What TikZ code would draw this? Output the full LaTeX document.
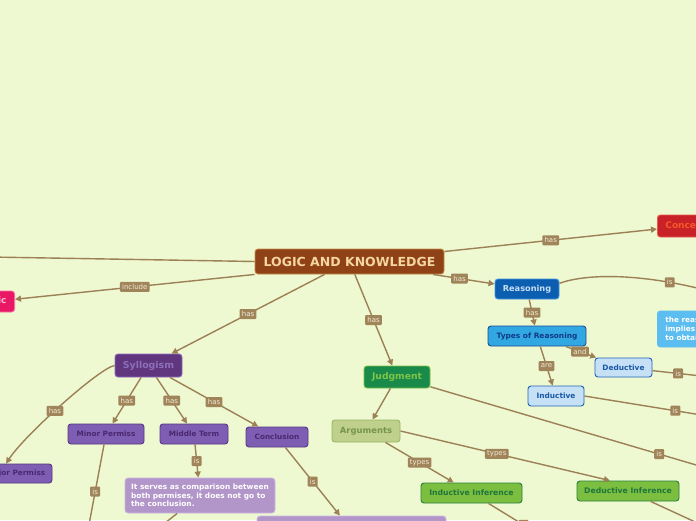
\documentclass[tikz,border=0pt]{standalone}
\usepackage{fontspec}
\setmainfont{DejaVu Sans}
\usepackage{tikz}
\usetikzlibrary{arrows.meta}
\definecolor{mapbg}{RGB}{238,248,209}
\definecolor{linkbrown}{RGB}{156,128,86}
\definecolor{tagbrown}{RGB}{160,132,90}
\definecolor{tagtext}{RGB}{242,234,214}
\definecolor{logicfill}{RGB}{142,66,22}
\definecolor{logicline}{RGB}{196,140,80}
\definecolor{logictext}{RGB}{246,214,160}
\definecolor{conceptfill}{RGB}{200,34,40}
\definecolor{conceptline}{RGB}{232,90,80}
\definecolor{concepttext}{RGB}{248,88,40}
\definecolor{pinkfill}{RGB}{232,24,100}
\definecolor{pinkline}{RGB}{248,110,160}
\definecolor{pinktext}{RGB}{250,190,210}
\definecolor{reasonfill}{RGB}{12,94,176}
\definecolor{reasonline}{RGB}{70,150,225}
\definecolor{reasontext}{RGB}{200,222,246}
\definecolor{typefill}{RGB}{50,168,226}
\definecolor{typeline}{RGB}{28,76,150}
\definecolor{typetext}{RGB}{16,58,136}
\definecolor{kindfill}{RGB}{198,224,246}
\definecolor{kindline}{RGB}{32,100,184}
\definecolor{kindtext}{RGB}{26,88,168}
\definecolor{notefill}{RGB}{92,190,240}
\definecolor{syllofill}{RGB}{96,54,126}
\definecolor{sylloline}{RGB}{140,110,190}
\definecolor{syllotext}{RGB}{140,112,186}
\definecolor{partfill}{RGB}{126,94,178}
\definecolor{partline}{RGB}{86,56,132}
\definecolor{parttext}{RGB}{74,40,112}
\definecolor{softfill}{RGB}{178,150,202}
\definecolor{softline}{RGB}{205,185,225}
\definecolor{judgefill}{RGB}{26,138,74}
\definecolor{judgeline}{RGB}{120,192,72}
\definecolor{judgetext}{RGB}{126,196,72}
\definecolor{arguefill}{RGB}{190,208,140}
\definecolor{argueline}{RGB}{152,182,100}
\definecolor{arguetext}{RGB}{118,148,78}
\definecolor{inferfill}{RGB}{124,190,64}
\definecolor{inferline}{RGB}{40,128,60}
\definecolor{infertext}{RGB}{30,118,60}
\newcommand{\fsz}[1]{\fontsize{#1}{#1}\selectfont}

\begin{document}
\begin{tikzpicture}[x=1pt,y=-1pt,
  box/.style={rounded corners=3pt,line width=0.9pt,inner sep=0pt},
  core/.style={box,fill=logicfill,draw=logicline,text=logictext,minimum width=189pt,minimum height=25pt,font=\bfseries\fsz{12.5}},
  reasonbox/.style={box,fill=reasonfill,draw=reasonline,text=reasontext,minimum height=20pt,font=\bfseries\fsz{8.2}},
  typebox/.style={box,fill=typefill,draw=typeline,text=typetext,minimum height=20pt,font=\bfseries\fsz{7.4}},
  kindbox/.style={box,fill=kindfill,draw=kindline,text=kindtext,minimum height=19pt,font=\bfseries\fsz{7.4}},
  syllobox/.style={box,fill=syllofill,draw=sylloline,text=syllotext,minimum height=23pt,font=\bfseries\fsz{9.4}},
  partbox/.style={box,fill=partfill,draw=partline,text=parttext,minimum height=20pt,font=\bfseries\fsz{7.3}},
  softbox/.style={box,fill=softfill,draw=softline,text=white,font=\bfseries\fontsize{7.4}{8.6}\selectfont,align=left},
  judgebox/.style={box,fill=judgefill,draw=judgeline,text=judgetext,minimum height=22pt,font=\bfseries\fsz{9.2}},
  arguebox/.style={box,fill=arguefill,draw=argueline,text=arguetext,minimum height=22pt,font=\bfseries\fsz{8.4}},
  inferbox/.style={box,fill=inferfill,draw=inferline,text=infertext,minimum height=20pt,font=\bfseries\fsz{7.7}},
  link/.style={draw=linkbrown,line width=1.4pt},
  arr/.style={-{Triangle[length=6pt,width=6pt]}},
  tag/.style={fill=tagbrown,text=tagtext,font=\fsz{7},rounded corners=1pt,inner xsep=2.2pt,inner ysep=1.8pt,minimum height=10pt}]
  \useasboundingbox (0,0) rectangle (696,520);
  \clip (0,0) rectangle (696,520);
  \fill[mapbg] (0,0) rectangle (696,520);

  \node[core] (logic) at (349.5,261.5) {LOGIC AND KNOWLEDGE};
  \node[box,fill=conceptfill,draw=conceptline,text=concepttext,minimum height=22pt,inner xsep=8pt,font=\bfseries\fsz{9},anchor=west] (concept) at (657,226) {Concept};
  \node[box,fill=pinkfill,draw=pinkline,text=pinktext,minimum height=21pt,inner xsep=8pt,font=\bfseries\fsz{9},anchor=east] (logicpart) at (15,301.5) {Logic};

  \node[reasonbox,minimum width=64pt] (reasoning) at (527,289) {Reasoning};
  \node[typebox,minimum width=98pt] (types) at (537,336) {Types of Reasoning};
  \node[kindbox,minimum width=57pt] (deductive) at (623.5,367.5) {Deductive};
  \node[kindbox,minimum width=56pt,minimum height=20pt] (inductive) at (556,396) {Inductive};
  \node[box,fill=notefill,draw=notefill,text=white,minimum height=36pt,inner xsep=8pt,anchor=west,align=left,font=\bfseries\fontsize{7.3}{9}\selectfont] (reasnote) at (657,329) {the reasoning\\implies that\\to obtain};

  \node[syllobox,minimum width=67pt] (syllogism) at (148.5,365.5) {Syllogism};
  \node[partbox,minimum width=76pt] (minor) at (106,434) {Minor Permiss};
  \node[partbox,minimum width=68pt] (middle) at (194,434) {Middle Term};
  \node[partbox,minimum width=62pt] (conclusion) at (277,437) {Conclusion};
  \node[partbox,minimum width=72pt,minimum height=19pt] (major) at (16,473.5) {Major Permiss};
  \node[softbox,minimum width=150pt,minimum height=35pt] (serves) at (200,495.5) {It serves as comparison between\\both permises, it does not go to\\the conclusion.};
  \node[softbox,minimum width=189pt,minimum height=28pt] (conclnote) at (351.5,530) {};

  \node[judgebox,minimum width=66pt] (judgment) at (397,377) {Judgment};
  \node[arguebox,minimum width=68pt] (arguments) at (366,431) {Arguments};
  \node[inferbox,minimum width=101pt] (indinf) at (471.5,493) {Inductive Inference};
  \node[inferbox,minimum width=102pt] (dedinf) at (628,491) {Deductive Inference};

  \coordinate (leftout) at (-10,257);
  \coordinate (reasout) at (720,294);
  \coordinate (dedout) at (720,378);
  \coordinate (indout) at (720,418);
  \coordinate (judgeout) at (720,472);
  \coordinate (indinfout) at (540,535);
  \coordinate (dedinfout) at (730,538);
  \coordinate (minorout) at (88,530);
  \coordinate (servesout) at (156,530);

  \draw[link] (logic.west) -- (leftout);
  \draw[link,arr] (logic.south west) -- node[tag]{include} (logicpart);
  \draw[link,arr] (logic) -- node[tag]{has} (concept);
  \draw[link,arr] (logic) -- node[tag,pos=0.43]{has} (reasoning);
  \draw[link,arr] (logic) -- node[tag]{has} (syllogism);
  \draw[link,arr] (logic) -- node[tag]{has} (judgment);

  \draw[link,arr] (reasoning) -- node[tag]{has} (types);
  \draw[link] (reasoning.10) .. controls +(31,-11) and +(-70,-20) .. node[tag,pos=0.75]{is} (reasout);
  \draw[link,arr] (types) -- node[tag,pos=0.47]{and} (deductive);
  \draw[link,arr] (types) -- node[tag]{are} (inductive);
  \draw[link] (deductive) -- node[tag,pos=0.38]{is} (dedout);
  \draw[link] (inductive.east) -- node[tag,pos=0.67]{is} (indout);

  \draw[link,arr] (syllogism) -- node[tag]{has} (minor);
  \draw[link,arr] (syllogism) -- node[tag]{has} (middle);
  \draw[link,arr] (syllogism) -- node[tag]{has} (conclusion);
  \draw[link,arr] (syllogism.west) .. controls +(-15,2.5) and +(19,-29) .. node[tag,pos=0.55]{has} (major.135);
  \draw[link,arr] (middle) -- node[tag]{is} (serves);
  \draw[link] (minor) -- node[tag,pos=0.55]{is} (minorout);
  \draw[link,arr] (conclusion) -- node[tag]{is} (conclnote);
  \draw[link] (serves) -- (servesout);

  \draw[link,arr] (judgment) -- (arguments);
  \draw[link] (judgment) -- node[tag,pos=0.79]{is} (judgeout);
  \draw[link,arr] (arguments.east) -- node[tag,pos=0.46]{types} (dedinf.150);
  \draw[link,arr] (arguments) -- node[tag]{types} (indinf);
  \draw[link] (indinf) -- node[tag,pos=0.68]{is} (indinfout);
  \draw[link] (dedinf) -- (dedinfout);
\end{tikzpicture}
\end{document}
